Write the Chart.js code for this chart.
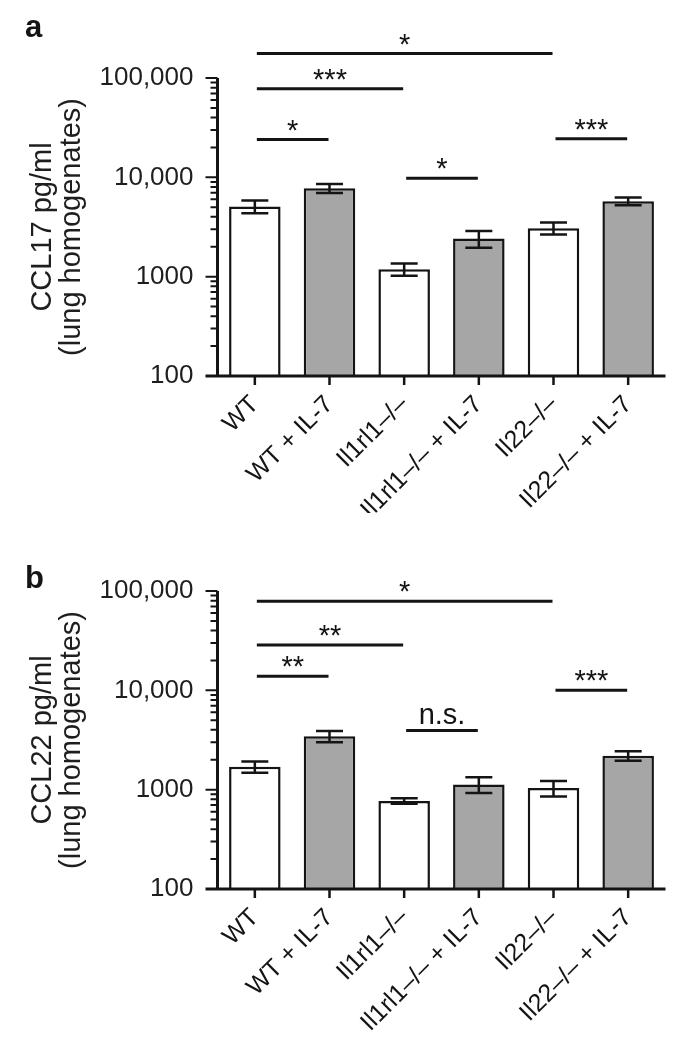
<!DOCTYPE html>
<html>
<head>
<meta charset="utf-8">
<script src="https://cdn.jsdelivr.net/npm/chart.js@4.4.1/dist/chart.umd.min.js"></script>
<style>
  body{margin:0;background:#fff;}
  canvas{position:absolute;left:0;}
  #chartA{top:0;}
  #chartB{top:513px;}
</style>
</head>
<body>
<canvas id="chartA" width="695" height="513"></canvas>
<canvas id="chartB" width="695" height="537"></canvas>
<script>
const groups = ['WT', 'WT + IL-7', 'Il1rl1–/–', 'Il1rl1–/– + IL-7', 'Il22–/–', 'Il22–/– + IL-7'];

// CCL17 (panel a)
const ccl17Mean = [5100, 7750, 1190, 2420, 3080, 5750];
const ccl17Sem  = [750, 800, 170, 460, 430, 520];
// [from group, to group, line height (pg/ml), label]
const ccl17Sig = [[0, 4, 176000, '*'], [0, 2, 78000, '***'], [0, 1, 24000, '*'], [2, 3, 9800, '*'], [4, 5, 24500, '***']];

// CCL22 (panel b)
const ccl22Mean = [1700, 3450, 770, 1130, 1040, 2200];
const ccl22Sem  = [220, 450, 50, 205, 185, 240];
const ccl22Sig = [[0, 4, 79000, '*'], [0, 2, 28600, '**'], [0, 1, 13900, '**'], [2, 3, 3950, 'n.s.'], [4, 5, 10000, '***']];

const yTickValues = [100, 1000, 10000, 100000];
const yTickLabels = ['100', '1000', '10,000', '100,000'];
const yMinorTicks = [];
for (let d = 100; d < 100000; d *= 10) for (let m = 2; m <= 9; m++) yMinorTicks.push(d * m);

const FONT = "'Liberation Sans', Arial, sans-serif";
const INK = '#141414';
const AREA_BOTTOM = 376;
const AREA_LEFT = 217.5;

const overlay = {
  id: 'overlay',
  afterDatasetsDraw(chart, args, opts){
    const {ctx, chartArea: a, scales: {x, y}} = chart;
    const meta = chart.getDatasetMeta(0);
    ctx.save();
    ctx.strokeStyle = INK;
    ctx.lineCap = 'butt';

    // error bars
    ctx.lineWidth = 2.5;
    meta.data.forEach((bar, i) => {
      const m = opts.mean[i], s = opts.sem[i];
      const yt = y.getPixelForValue(m + s), yb = y.getPixelForValue(m - s);
      ctx.beginPath();
      ctx.moveTo(bar.x, yt); ctx.lineTo(bar.x, yb);
      ctx.moveTo(bar.x - 13.5, yt); ctx.lineTo(bar.x + 13.5, yt);
      ctx.moveTo(bar.x - 13.5, yb); ctx.lineTo(bar.x + 13.5, yb);
      ctx.stroke();
    });

    // axes
    ctx.lineWidth = 3;
    ctx.beginPath();
    ctx.moveTo(a.left, a.top); ctx.lineTo(a.left, a.bottom);
    ctx.moveTo(a.left - 12, a.bottom); ctx.lineTo(a.right, a.bottom);
    ctx.stroke();
    ctx.lineWidth = 2;
    ctx.beginPath();
    yTickValues.forEach(v => { if (v > 100){ const py = y.getPixelForValue(v); ctx.moveTo(a.left - 12, py); ctx.lineTo(a.left, py); } });
    yMinorTicks.forEach(v => { const py = y.getPixelForValue(v); ctx.moveTo(a.left - 7, py); ctx.lineTo(a.left, py); });
    ctx.stroke();
    ctx.lineWidth = 2.5;
    ctx.beginPath();
    meta.data.forEach(bar => { ctx.moveTo(bar.x, a.bottom); ctx.lineTo(bar.x, a.bottom + 9); });
    ctx.stroke();

    // significance lines
    ctx.fillStyle = INK;
    ctx.textAlign = 'center';
    ctx.textBaseline = 'alphabetic';
    opts.sig.forEach(([i, j, v, label]) => {
      const py = y.getPixelForValue(v);
      const x1 = x.getPixelForValue(i) + 2, x2 = x.getPixelForValue(j) - 1;
      ctx.lineWidth = 3;
      ctx.beginPath(); ctx.moveTo(x1, py); ctx.lineTo(x2, py); ctx.stroke();
      if (label === 'n.s.'){
        ctx.font = '29px ' + FONT;
        ctx.fillText(label, (x1 + x2) / 2, py - 6);
      } else {
        ctx.font = '29px ' + FONT;
        ctx.fillText(label, (x1 + x2) / 2, py);
      }
    });

    // panel letter
    ctx.textAlign = 'left';
    ctx.font = 'bold 31px ' + FONT;
    ctx.fillText(opts.letter, 25, opts.letterY);
    ctx.restore();
  }
};

function makeChart(id, mean, sem, sig, titleTop, letter, letterY){
  const canvas = document.getElementById(id);
  const H = canvas.height;
  return new Chart(canvas, {
    type: 'bar',
    data: {
      labels: groups,
      datasets: [{
        data: mean,
        backgroundColor: c => c.dataIndex % 2 ? '#a6a6a6' : '#ffffff',
        borderColor: INK,
        borderWidth: 2.5,
        borderSkipped: 'start',
        barPercentage: 0.69,
        categoryPercentage: 1
      }]
    },
    options: {
      responsive: false,
      animation: false,
      devicePixelRatio: 1,
      layout: {padding: {top: 78, right: 29.5, left: 0, bottom: 0}},
      plugins: {
        legend: {display: false},
        tooltip: {enabled: false},
        overlay: {mean, sem, sig, letter, letterY}
      },
      scales: {
        x: {
          grid: {display: false, drawTicks: false, tickLength: 0},
          border: {display: false},
          ticks: {color: INK, font: {family: FONT, size: 25}, minRotation: 45, maxRotation: 45, autoSkip: false, padding: 14},
          afterFit: s => { s.height = H - AREA_BOTTOM; }
        },
        y: {
          type: 'logarithmic',
          min: 100,
          max: 100000,
          grid: {display: false, drawTicks: false, tickLength: 0},
          border: {display: false},
          afterBuildTicks: s => { s.ticks = yTickValues.concat(yMinorTicks).sort((p, q) => p - q).map(v => ({value: v})); },
          ticks: {
            color: '#1e1e1e',
            font: {family: FONT, size: 26},
            padding: 24,
            autoSkip: false,
            callback: v => { const k = yTickValues.indexOf(v); return k >= 0 ? yTickLabels[k] : ''; }
          },
          title: {
            display: true,
            text: [titleTop, '(lung homogenates)'],
            color: '#1e1e1e',
            font: {family: FONT, size: 29, lineHeight: 1},
            padding: {top: 28, bottom: 0}
          },
          afterFit: s => { s.width = AREA_LEFT; }
        }
      }
    },
    plugins: [overlay]
  });
}

makeChart('chartA', ccl17Mean, ccl17Sem, ccl17Sig, 'CCL17 pg/ml', 'a', 37);
makeChart('chartB', ccl22Mean, ccl22Sem, ccl22Sig, 'CCL22 pg/ml', 'b', 75);
</script>
</body>
</html>
